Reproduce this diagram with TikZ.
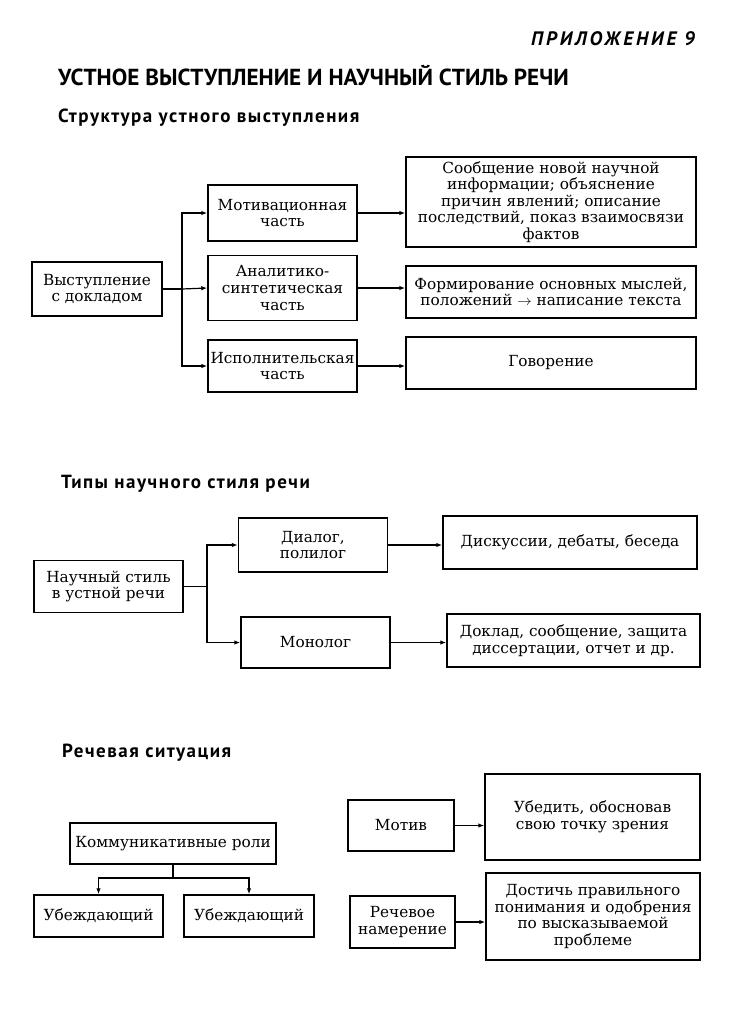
\documentclass[tikz,border=0pt]{standalone}
\usepackage{fontspec}
\setmainfont{DejaVu Serif}
\newfontfamily\headfont{PT Sans}
\newfontfamily\headwidefont[LetterSpace=8]{PT Sans}
\newfontfamily\appfont[LetterSpace=15]{PT Sans}
\usetikzlibrary{positioning,arrows.meta}

\begin{document}
\begin{tikzpicture}[x=1pt,y=-1pt,
    box/.style={draw,line width=1.4pt,align=center,inner sep=1pt,font=\fontsize{15.3}{16.6}\selectfont},
    arr/.style={-{Latex[length=6pt,width=4.5pt]},line width=1.2pt},
    head/.style={anchor=base west,inner sep=0pt,font=\headwidefont\bfseries\fontsize{19}{21}\selectfont}]
  \useasboundingbox (0,0) rectangle (740,1029);

  % headings
  \node[anchor=base east,inner sep=0pt,font=\appfont\bfseries\itshape\fontsize{19.5}{21}\selectfont](app) at (695,45){ПРИЛОЖЕНИЕ 9};
  \node[head,font=\headfont\bfseries\fontsize{23.2}{25}\selectfont](title) at (58,85){УСТНОЕ ВЫСТУПЛЕНИЕ И НАУЧНЫЙ СТИЛЬ РЕЧИ};
  \node[head](h1) at (58,122){Структура устного выступления};
  \node[head](h2) at (61,488){Типы научного стиля речи};
  \node[head](h3) at (62,757){Речевая ситуация};

  % structure of the talk
  \node[box,minimum width=130pt,minimum height=54pt](talk) at (97,289){Выступление\\с докладом};
  \node[box,minimum width=149pt,minimum height=56pt](motiv) at (282.5,213){Мотивационная\\часть};
  \node[box,minimum width=149pt,minimum height=65pt](anal) at (282.5,288){Аналитико-\\синтетическая\\часть};
  \node[box,minimum width=149pt,minimum height=52pt](exec) at (282.5,366){Исполнительская\\часть};
  \node[box,minimum width=290pt,minimum height=90pt](info) at (551,202){Сообщение новой научной\\информации; объяснение\\причин явлений; описание\\последствий, показ взаимосвязи\\фактов};
  \node[box,minimum width=290pt,minimum height=52pt](form) at (551,292){Формирование основных мыслей,\\положений $\rightarrow$ написание текста};
  \node[box,minimum width=290pt,minimum height=52pt](speak) at (551,363){Говорение};

  \coordinate (fork1) at (182,289);
  \draw[line width=1.2pt] (talk.east) -- (fork1);
  \draw[arr] (fork1) |- (motiv.west);
  \draw[arr] (fork1) -- (anal.west);
  \draw[arr] (fork1) |- (exec.west);
  \draw[arr] (motiv.east) -- (motiv.east -| info.west);
  \draw[arr] (anal.east) -- (anal.east -| form.west);
  \draw[arr] (exec.east) -- (exec.east -| speak.west);

  % types of scientific style
  \node[box,minimum width=149pt,minimum height=52pt](sci) at (108.5,586.5){Научный стиль\\в устной речи};
  \node[box,minimum width=149pt,minimum height=54pt](dial) at (313,545){Диалог,\\полилог};
  \node[box,minimum width=149pt,minimum height=51pt](mono) at (315.5,642.5){Монолог};
  \node[box,minimum width=254pt,minimum height=53pt](disc) at (570,542.5){Дискуссии, дебаты, беседа};
  \node[box,minimum width=253pt,minimum height=53pt](rep) at (573.5,640.5){Доклад, сообщение, защита\\диссертации, отчет и др.};

  \coordinate (fork2) at (207,586.5);
  \draw[line width=1.2pt] (sci.east) -- (fork2);
  \draw[arr] (fork2) |- (dial.west);
  \draw[arr] (fork2) |- (mono.west);
  \draw[arr] (dial.east) -- (dial.east -| disc.west);
  \draw[arr] (mono.east) -- (mono.east -| rep.west);

  % speech situation
  \node[box,minimum width=206pt,minimum height=41pt](roles) at (173,843.5){Коммуникативные роли};
  \node[box,minimum width=129pt,minimum height=42pt](pers1) at (98.5,916){Убеждающий};
  \node[box,minimum width=130pt,minimum height=42pt](pers2) at (249,916){Убеждающий};
  \node[box,minimum width=106pt,minimum height=51pt](motive) at (401,825.5){Мотив};
  \node[box,minimum width=215pt,minimum height=86pt](conv) at (592.5,817){Убедить, обосновав\\свою точку зрения};
  \node[box,minimum width=105pt,minimum height=52pt](intent) at (402.5,922){Речевое\\намерение};
  \node[box,minimum width=214pt,minimum height=87pt](reach) at (593,916.5){Достичь правильного\\понимания и одобрения\\по высказываемой\\проблеме};

  \coordinate (split) at (173,878);
  \draw[line width=1.2pt] (roles.south) -- (split);
  \draw[arr] (split) -| (pers1.north);
  \draw[arr] (split) -| (pers2.north);
  \draw[arr] (motive.east) -- (motive.east -| conv.west);
  \draw[arr] (intent.east) -- (intent.east -| reach.west);
\end{tikzpicture}
\end{document}
